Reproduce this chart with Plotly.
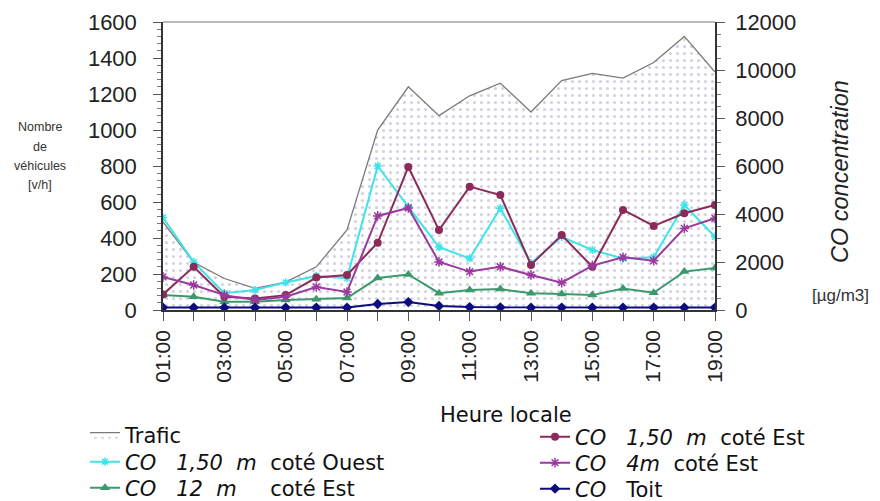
import plotly.graph_objects as go

hours = ["01:00","02:00","03:00","04:00","05:00","06:00","07:00","08:00","09:00","10:00",
         "11:00","12:00","13:00","14:00","15:00","16:00","17:00","18:00","19:00"]
trafic = [490, 265, 175, 120, 155, 240, 445, 1000, 1240, 1080, 1190, 1260, 1100, 1275, 1315, 1288, 1375, 1520, 1322]
co_ouest_150 = [3850, 2000, 700, 830, 1150, 1420, 1330, 6000, 4300, 2620, 2150, 4240, 1950, 3050, 2500, 2150, 2200, 4380, 3050]
co_est_150 = [650, 1800, 550, 480, 620, 1350, 1460, 2800, 5960, 3330, 5140, 4790, 1880, 3120, 1800, 4170, 3500, 4030, 4380]
co_est_4m = [1380, 1040, 620, 420, 550, 960, 750, 3920, 4250, 2000, 1600, 1800, 1460, 1140, 1850, 2200, 2050, 3400, 3820]
co_est_12m = [620, 550, 340, 340, 420, 450, 500, 1330, 1480, 700, 830, 870, 700, 670, 620, 900, 720, 1600, 1750]
co_toit = [100, 100, 100, 100, 100, 100, 100, 250, 330, 170, 120, 110, 100, 100, 100, 100, 100, 100, 100]

x = [int(h[:2]) for h in hours]
tick_hours = hours[::2]
tick_pos = [int(h[:2]) for h in tick_hours]

# page offset (browser default body margin)
OFF = 8
W, H = 880 - OFF, 501 - OFF
PL, PR, PT, PB = 163, 715, 22, 310   # plot area in page pixels
PW, PH = PR - PL, PB - PT

def cx(px):
    return (px - OFF) / W
def cy(py):
    return 1 - (py - OFF) / H

NB = "\u00a0"
def sp(n):
    return NB * n

fig = go.Figure()
fig.add_trace(go.Scatter(
    x=x, y=trafic, name="Trafic", mode="lines", fill="tozeroy",
    line=dict(color="#7a7a7a", width=1.3),
    fillcolor="white",
    fillpattern=dict(shape=".", fgcolor="#a4a4c4", bgcolor="white", size=7, solidity=0.16),
    legend="legend"))
fig.add_trace(go.Scatter(
    x=x, y=co_ouest_150, name=f"<i>CO{sp(3)}1,50{sp(2)}m</i>{sp(2)}coté Ouest", yaxis="y2",
    mode="lines+markers", line=dict(color="#3fe3ea", width=2),
    marker=dict(symbol="asterisk-open", size=7, color="#3fe3ea", line=dict(color="#3fe3ea", width=1.5)),
    legend="legend2"))
fig.add_trace(go.Scatter(
    x=x, y=co_est_12m, name=f"<i>CO{sp(3)}12{sp(2)}m</i>{sp(5)}coté Est", yaxis="y2",
    mode="lines+markers", line=dict(color="#3b9a6c", width=2),
    marker=dict(symbol="triangle-up", size=9, color="#3b9a6c"),
    legend="legend3"))
fig.add_trace(go.Scatter(
    x=x, y=co_est_150, name=f"<i>CO{sp(3)}1,50{sp(2)}m</i>{sp(2)}coté Est", yaxis="y2",
    mode="lines+markers", line=dict(color="#8c2a5a", width=2),
    marker=dict(symbol="circle", size=8, color="#8c2a5a"),
    legend="legend4"))
fig.add_trace(go.Scatter(
    x=x, y=co_est_4m, name=f"<i>CO{sp(3)}4m</i>{sp(2)}coté Est", yaxis="y2",
    mode="lines+markers", line=dict(color="#9a3a9e", width=2),
    marker=dict(symbol="asterisk-open", size=8, color="#9a3a9e", line=dict(color="#9a3a9e", width=1.5)),
    legend="legend5"))
fig.add_trace(go.Scatter(
    x=x, y=co_toit, name=f"<i>CO</i>{sp(3)}Toit", yaxis="y2",
    mode="lines+markers", line=dict(color="#0c0c7e", width=2),
    marker=dict(symbol="diamond", size=8, color="#0c0c7e"),
    legend="legend6"))

tickfont = dict(family="Liberation Sans, Arial", size=22, color="#222222")
legfont = dict(family="DejaVu Sans, Verdana", size=21, color="#111111")

def leg(px, py):
    return dict(xref="container", yref="container", x=cx(px), y=cy(py),
                xanchor="left", yanchor="middle", orientation="v",
                font=legfont, bgcolor="rgba(0,0,0,0)", itemwidth=30, borderwidth=0)

fig.update_layout(
    width=W, height=H,
    margin=dict(l=PL - OFF, r=W - (PR - OFF), t=PT - OFF, b=H - (PB - OFF), autoexpand=False),
    paper_bgcolor="white", plot_bgcolor="white",
    showlegend=True,
    xaxis=dict(
        range=[x[0], x[-1]], tickmode="array", tickvals=tick_pos, ticktext=tick_hours,
        tickangle=-90, tickfont=dict(family="Liberation Sans, Arial", size=21, color="#222222"),
        showline=True, linecolor="#333333", linewidth=1.5,
        ticks="outside", ticklen=9, tickcolor="#555555",
        minor=dict(ticks="outside", dtick=1, ticklen=9, tickcolor="#555555"),
        showgrid=False, zeroline=False, ticklabelstandoff=1, automargin=False,
    ),
    yaxis=dict(
        range=[0, 1600], dtick=200, tickfont=tickfont, tickformat="d",
        showline=True, linecolor="#333333", linewidth=1.5,
        ticks="outside", ticklen=8, tickcolor="#555555",
        minor=dict(ticks="outside", dtick=40, ticklen=4, tickcolor="#777777"),
        showgrid=False, zeroline=False, ticklabelstandoff=12, automargin=False,
    ),
    yaxis2=dict(
        range=[0, 12000], dtick=2000, overlaying="y", side="right", tickfont=tickfont,
        tickformat="d",
        showline=True, linecolor="#333333", linewidth=1.5,
        ticks="outside", ticklen=8, tickcolor="#555555",
        minor=dict(ticks="outside", dtick=500, ticklen=4, tickcolor="#777777"),
        showgrid=False, zeroline=False, ticklabelstandoff=6, automargin=False,
    ),
    legend=leg(85, 435),
    legend2=leg(85, 462),
    legend3=leg(85, 488),
    legend4=leg(535, 437),
    legend5=leg(535, 463),
    legend6=leg(535, 489),
    shapes=[dict(type="line", xref="paper", yref="paper", x0=0, x1=1, y0=1, y1=1,
                 line=dict(color="#bbbbbb", width=2))],
)

def px_x(px):
    return (px - PL) / PW
def px_y(py):
    return (PB - py) / PH

ann_small = dict(family="Liberation Sans, Arial", size=12.5, color="#333333")
left_title = ["Nombre", "de", "véhicules", "[v/h]"]
for i, t in enumerate(left_title):
    fig.add_annotation(text=t, xref="paper", yref="paper", x=px_x(40), y=px_y(127 + i * 19.5),
                       showarrow=False, font=ann_small, xanchor="center", yanchor="middle")
fig.add_annotation(text="<i>CO concentration</i>", xref="paper", yref="paper",
                   x=px_x(840), y=px_y(172), textangle=-90, showarrow=False,
                   font=dict(family="Liberation Sans, Arial", size=23.5, color="#222222"),
                   xanchor="center", yanchor="middle")
fig.add_annotation(text="[µg/m3]", xref="paper", yref="paper",
                   x=px_x(840), y=px_y(295), showarrow=False,
                   font=dict(family="Liberation Sans, Arial", size=17, color="#333333"),
                   xanchor="center", yanchor="middle")
fig.add_annotation(text="Heure locale", xref="paper", yref="paper",
                   x=px_x(506), y=px_y(415), showarrow=False,
                   font=dict(family="DejaVu Sans, Verdana", size=21, color="#111111"),
                   xanchor="center", yanchor="middle")

fig.write_html("out.html")
